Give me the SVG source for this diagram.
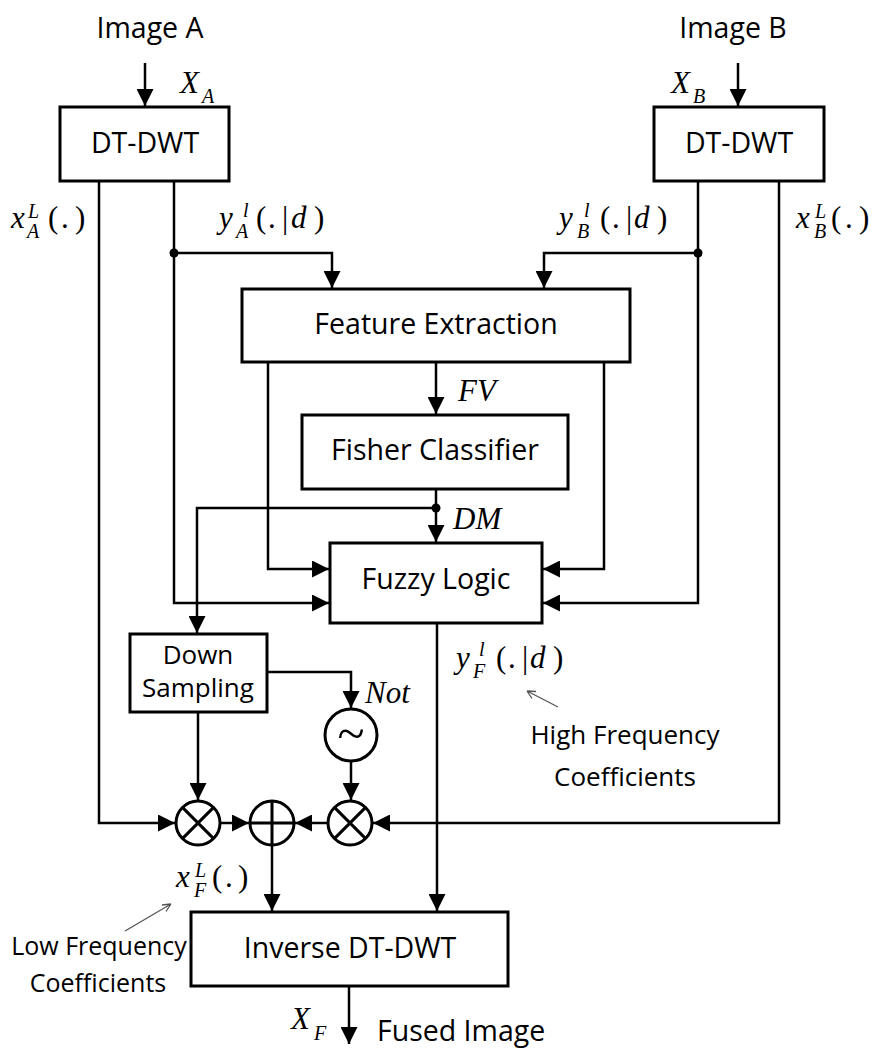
<svg xmlns="http://www.w3.org/2000/svg" width="873" height="1052" viewBox="0 0 873 1052">
  <style>
    .box { fill: #fff; stroke: #000; stroke-width: 3; }
    .wire { fill: none; stroke: #000; stroke-width: 2.5; }
    .op { fill: #fff; stroke: #000; stroke-width: 3; }
    .opx { stroke: #000; stroke-width: 3; }
    .lbl { font-family: "Open Sans", "Liberation Sans", sans-serif; font-size: 28.5px; fill: #000; }
    .sm { font-family: "Open Sans", "Liberation Sans", sans-serif; font-size: 25px; fill: #000; }
    .sm26 { font-size: 26px; }
    .m { font-family: "Liberation Serif", "DejaVu Serif", serif; font-style: italic; font-size: 31px; fill: #000; }
    .mu { font-family: "Liberation Serif", "DejaVu Serif", serif; font-size: 31px; fill: #000; }
    .tilde { font-size: 50px; }
    .s { font-family: "Liberation Serif", "DejaVu Serif", serif; font-style: italic; font-size: 20px; fill: #000; }
    .note { fill: none; stroke: #555; stroke-width: 1.3; }
  </style>
  <defs>
    <marker id="arr" markerUnits="userSpaceOnUse" markerWidth="18" markerHeight="17" refX="17" refY="8.5" orient="auto">
      <path d="M0,0 L17,8.5 L0,17 Z" fill="#000"/>
    </marker>
  </defs>

  <rect width="873" height="1052" fill="#fff"/>

  <!-- connectors -->
  <g id="connectors">
    <path class="wire" d="M145,63 V106" marker-end="url(#arr)"/>
    <path class="wire" d="M738,63 V106" marker-end="url(#arr)"/>
    <!-- low-pass paths -->
    <path class="wire" d="M99,181 V823 H175" marker-end="url(#arr)"/>
    <path class="wire" d="M779,181 V823 H373" marker-end="url(#arr)"/>
    <!-- high-pass paths -->
    <path class="wire" d="M174,181 V603 H329" marker-end="url(#arr)"/>
    <path class="wire" d="M174,253 H332 V288" marker-end="url(#arr)"/>
    <path class="wire" d="M698,181 V603 H543" marker-end="url(#arr)"/>
    <path class="wire" d="M698,253 H544 V288" marker-end="url(#arr)"/>
    <circle cx="174" cy="253" r="4.5" fill="#000"/>
    <circle cx="698" cy="253" r="4.5" fill="#000"/>
    <!-- feature extraction outputs -->
    <path class="wire" d="M268,362 V569 H329" marker-end="url(#arr)"/>
    <path class="wire" d="M604,362 V569 H543" marker-end="url(#arr)"/>
    <path class="wire" d="M436,362 V414" marker-end="url(#arr)"/>
    <!-- decision map -->
    <path class="wire" d="M436,489 V542" marker-end="url(#arr)"/>
    <path class="wire" d="M436,508 H197 V633" marker-end="url(#arr)"/>
    <circle cx="436" cy="508" r="4.5" fill="#000"/>
    <!-- fuzzy output -->
    <path class="wire" d="M437,623 V911" marker-end="url(#arr)"/>
    <!-- down sampling branches -->
    <path class="wire" d="M267,672 H351 V708" marker-end="url(#arr)"/>
    <path class="wire" d="M198,712 V800" marker-end="url(#arr)"/>
    <path class="wire" d="M351,761 V800" marker-end="url(#arr)"/>
    <path class="wire" d="M220,823 H249" marker-end="url(#arr)"/>
    <path class="wire" d="M328,823 H295" marker-end="url(#arr)"/>
    <path class="wire" d="M272,845 V911" marker-end="url(#arr)"/>
    <!-- output -->
    <path class="wire" d="M349,986 V1044" marker-end="url(#arr)"/>
    <!-- annotation pointers -->
    <path class="note" d="M558,707 L527,691 M527,691 L536,691.5 M527,691 L532,698.5"/>
    <path class="note" d="M125,931 L171,904 M171,904 L162,905 M171,904 L166,911.5"/>
  </g>

  <!-- inputs -->
  <g id="input-a">
    <text class="lbl" x="150" y="38" text-anchor="middle">Image A</text>
    <text class="m" x="180" y="93">X</text>
    <text class="s" x="202" y="103">A</text>
  </g>
  <g id="input-b">
    <text class="lbl" x="733" y="38" text-anchor="middle">Image B</text>
    <text class="m" x="671" y="93">X</text>
    <text class="s" x="693" y="103">B</text>
  </g>

  <g id="dtdwt-a">
    <rect class="box" x="60" y="107" width="169" height="74"/>
    <text class="lbl" x="145" y="153" text-anchor="middle">DT-DWT</text>
  </g>
  <g id="dtdwt-b">
    <rect class="box" x="654" y="107" width="170" height="74"/>
    <text class="lbl" x="739" y="153" text-anchor="middle">DT-DWT</text>
  </g>

  <!-- coefficient labels -->
  <g id="label-xal">
    <text class="m" x="11" y="228">x</text>
    <text class="s" x="28" y="218">L</text>
    <text class="s" x="27" y="238">A</text>
    <text class="mu" y="228"><tspan x="48">(</tspan><tspan x="61">.</tspan><tspan x="75">)</tspan></text>
  </g>
  <g id="label-yal">
    <text class="m" x="219" y="228">y</text>
    <text class="s" x="243" y="217">l</text>
    <text class="s" x="236" y="238">A</text>
    <text class="mu" y="228"><tspan x="256">(</tspan><tspan x="268">.</tspan><tspan x="282">|</tspan></text>
    <text class="m" x="291" y="228">d</text>
    <text class="mu" x="314" y="228">)</text>
  </g>
  <g id="label-ybl">
    <text class="m" x="559" y="228">y</text>
    <text class="s" x="584" y="217">l</text>
    <text class="s" x="577" y="238">B</text>
    <text class="mu" y="228"><tspan x="600">(</tspan><tspan x="612">.</tspan><tspan x="626">|</tspan></text>
    <text class="m" x="634" y="228">d</text>
    <text class="mu" x="657" y="228">)</text>
  </g>
  <g id="label-xbl">
    <text class="m" x="796" y="228">x</text>
    <text class="s" x="815" y="218">L</text>
    <text class="s" x="814" y="238">B</text>
    <text class="mu" y="228"><tspan x="831">(</tspan><tspan x="845">.</tspan><tspan x="859">)</tspan></text>
  </g>

  <g id="feature-extraction">
    <rect class="box" x="242" y="289" width="388" height="73"/>
    <text class="lbl" x="436" y="334" text-anchor="middle">Feature Extraction</text>
  </g>
  <text class="m" x="458" y="401">FV</text>

  <g id="fisher-classifier">
    <rect class="box" x="302" y="415" width="266" height="74"/>
    <text class="lbl" x="435" y="460" text-anchor="middle">Fisher Classifier</text>
  </g>
  <text class="m" x="453" y="529">DM</text>

  <g id="fuzzy-logic">
    <rect class="box" x="330" y="543" width="212" height="80"/>
    <text class="lbl" x="436" y="589" text-anchor="middle">Fuzzy Logic</text>
  </g>

  <g id="label-yfl">
    <text class="m" x="456" y="668">y</text>
    <text class="s" x="479" y="656">l</text>
    <text class="s" x="473" y="678">F</text>
    <text class="mu" y="668"><tspan x="496">(</tspan><tspan x="508">.</tspan><tspan x="522">|</tspan></text>
    <text class="m" x="530" y="668">d</text>
    <text class="mu" x="553" y="668">)</text>
  </g>
  <g id="note-high">
    <text class="sm sm26" x="625" y="744" text-anchor="middle">High Frequency</text>
    <text class="sm sm26" x="625" y="786" text-anchor="middle">Coefficients</text>
  </g>

  <g id="down-sampling">
    <rect class="box" x="130" y="634" width="137" height="78"/>
    <text class="sm sm26" x="198" y="664" text-anchor="middle">Down</text>
    <text class="sm sm26" x="198" y="697" text-anchor="middle">Sampling</text>
  </g>

  <g id="not-op">
    <circle class="op" cx="351" cy="735" r="26"/>
    <text class="mu tilde" x="351" y="750" text-anchor="middle">~</text>
    <text class="m" x="365" y="703">Not</text>
  </g>

  <g id="mult-a">
    <circle class="op" cx="198" cy="823" r="22"/>
    <path class="opx" d="M182.4,807.4 L213.6,838.6 M213.6,807.4 L182.4,838.6"/>
  </g>
  <g id="adder">
    <circle class="op" cx="272" cy="823" r="22"/>
    <path class="opx" d="M250,823 H294 M272,801 V845"/>
  </g>
  <g id="mult-b">
    <circle class="op" cx="350" cy="823" r="22"/>
    <path class="opx" d="M334.4,807.4 L365.6,838.6 M365.6,807.4 L334.4,838.6"/>
  </g>

  <g id="label-xfl">
    <text class="m" x="176" y="887">x</text>
    <text class="s" x="195" y="877">L</text>
    <text class="s" x="194" y="897">F</text>
    <text class="mu" y="887"><tspan x="212">(</tspan><tspan x="225">.</tspan><tspan x="238">)</tspan></text>
  </g>
  <g id="note-low">
    <text class="sm" x="99" y="955" text-anchor="middle">Low Frequency</text>
    <text class="sm" x="98" y="992" text-anchor="middle">Coefficients</text>
  </g>

  <g id="inverse-dtdwt">
    <rect class="box" x="191" y="912" width="317" height="74"/>
    <text class="lbl" x="350" y="958" text-anchor="middle">Inverse DT-DWT</text>
  </g>

  <g id="output">
    <text class="m" x="291" y="1029">X</text>
    <text class="s" x="314" y="1040">F</text>
    <text class="lbl" x="377" y="1041">Fused Image</text>
  </g>
</svg>
